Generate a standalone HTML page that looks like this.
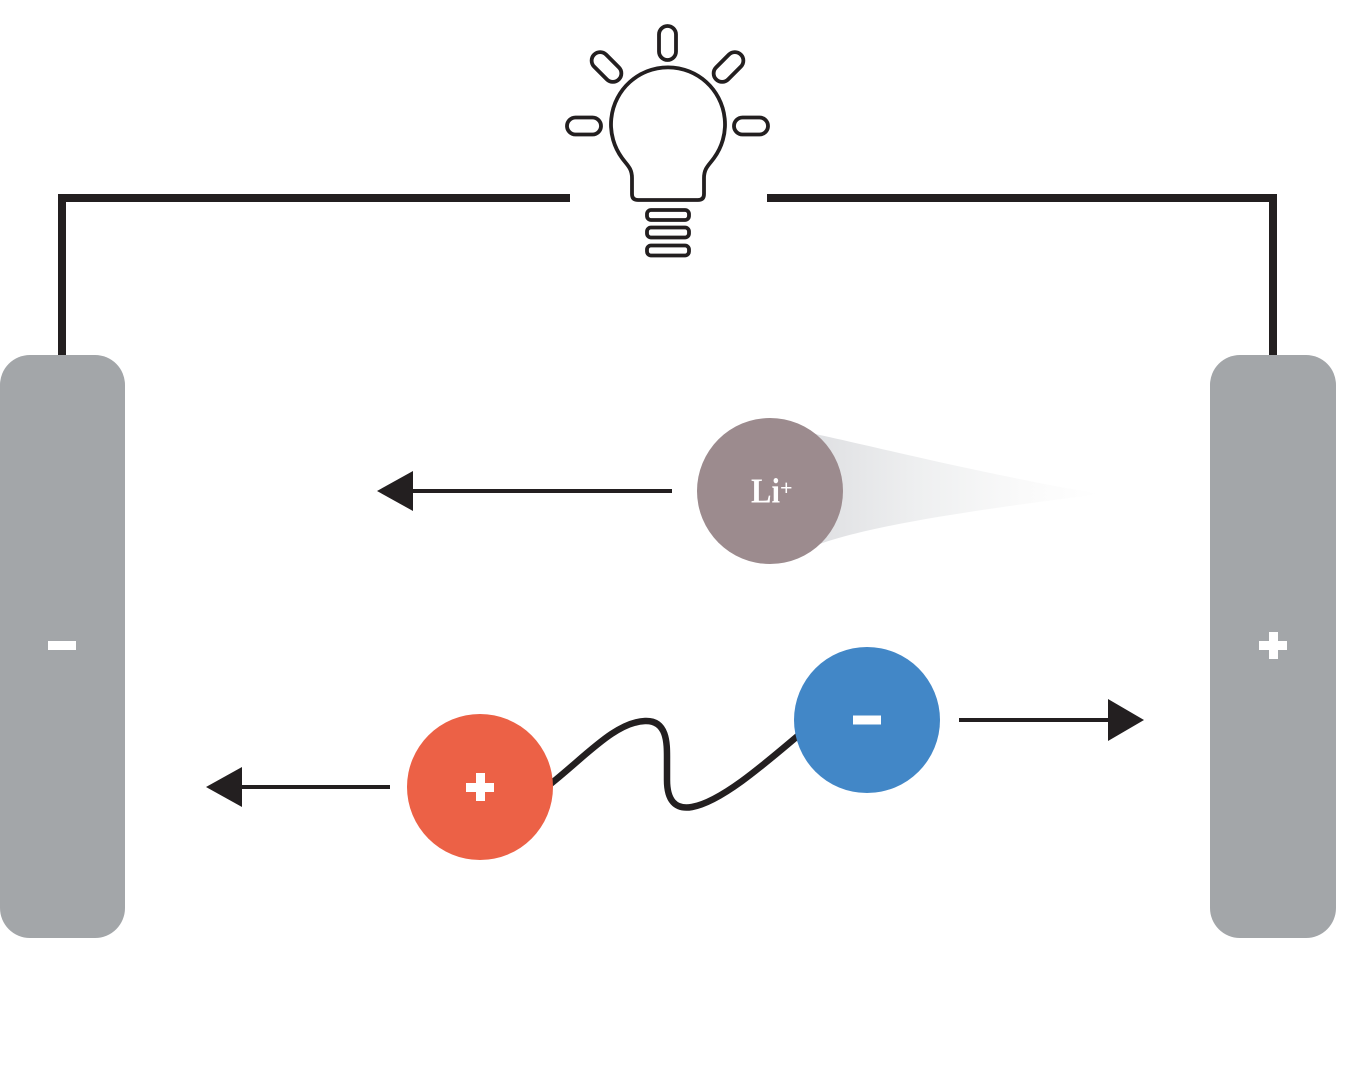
<!DOCTYPE html>
<html>
<head>
<meta charset="utf-8">
<style>
  html, body { margin: 0; padding: 0; background: #ffffff; }
  body { width: 1363px; height: 1068px; overflow: hidden; }
  svg { display: block; }
</style>
</head>
<body>
<svg width="1363" height="1068" viewBox="0 0 1363 1068" xmlns="http://www.w3.org/2000/svg">
  <defs>
    <linearGradient id="tail" x1="0" y1="0" x2="1" y2="0">
      <stop offset="0" stop-color="#dcdde0"/>
      <stop offset="0.4" stop-color="#eeeff0"/>
      <stop offset="0.75" stop-color="#fafafa"/>
      <stop offset="1" stop-color="#ffffff"/>
    </linearGradient>
  </defs>

  <!-- wires -->
  <polyline points="62,360 62,198 570,198" fill="none" stroke="#231f20" stroke-width="8" stroke-linejoin="miter"/>
  <polyline points="767,198 1273,198 1273,360" fill="none" stroke="#231f20" stroke-width="8" stroke-linejoin="miter"/>

  <!-- electrodes -->
  <rect x="0" y="355" width="125" height="583" rx="30" ry="30" fill="#a3a6a9"/>
  <rect x="1210" y="355" width="126" height="583" rx="30" ry="30" fill="#a3a6a9"/>
  <rect x="48" y="641" width="28" height="9" fill="#ffffff"/>
  <rect x="1259" y="641" width="28" height="9" fill="#ffffff"/>
  <rect x="1269" y="632" width="9" height="27" fill="#ffffff"/>

  <!-- light bulb -->
  <g fill="none" stroke="#231f20" stroke-width="3.8">
    <rect x="659" y="26" width="17" height="34" rx="8.5" ry="8.5"/>
    <rect x="567" y="117.5" width="34" height="17" rx="8.5" ry="8.5"/>
    <rect x="734" y="117.5" width="34" height="17" rx="8.5" ry="8.5"/>
    <rect x="589" y="58.5" width="35" height="17" rx="8.5" ry="8.5" transform="rotate(45 606.5 67)"/>
    <rect x="711" y="58.5" width="35" height="17" rx="8.5" ry="8.5" transform="rotate(-45 728.5 67)"/>
    <path d="M622,158 A57,57 0 1 1 714,158 C709,165 704,168 704,178 L704,194 Q704,200 698,200 L638,200 Q632,200 632,194 L632,178 C632,168 627,165 622,158 Z"/>
    <rect x="647" y="210" width="42" height="10" rx="4" ry="4"/>
    <rect x="647" y="227.5" width="42" height="10" rx="4" ry="4"/>
    <rect x="647" y="245.5" width="42" height="10" rx="4" ry="4"/>
  </g>

  <!-- Li+ ion with tail -->
  <path d="M795,430 C850,440 960,470 1100,494 C960,512 850,528 800,552 Z" fill="url(#tail)"/>
  <circle cx="770" cy="491" r="73" fill="#9c8b8e"/>
  <text x="751" y="502.5" font-family="'Liberation Serif', serif" font-weight="bold" font-size="35" fill="#ffffff" textLength="29" lengthAdjust="spacingAndGlyphs">Li</text>
  <text x="780" y="495" font-family="'Liberation Serif', serif" font-weight="bold" font-size="22" fill="#ffffff">+</text>

  <!-- Li arrow -->
  <line x1="410" y1="491" x2="672" y2="491" stroke="#231f20" stroke-width="4"/>
  <polygon points="377,491 413,471 413,511" fill="#231f20"/>

  <!-- wavy bond -->
  <path d="M548,786 C585,757 615,722 645,721 C668,720 667,745 667,760 L667,780 C667,800 675,810 692,807 C720,802 760,768 800,734" fill="none" stroke="#231f20" stroke-width="6.5" stroke-linecap="butt"/>

  <!-- red + circle -->
  <circle cx="480" cy="787" r="73" fill="#ec6146"/>
  <rect x="466" y="783" width="28" height="9" fill="#ffffff"/>
  <rect x="476" y="773" width="9" height="28" fill="#ffffff"/>

  <!-- blue - circle -->
  <circle cx="867" cy="720" r="73" fill="#4287c7"/>
  <rect x="853" y="715.5" width="28" height="9" fill="#ffffff"/>

  <!-- bottom left arrow -->
  <line x1="238" y1="787" x2="390" y2="787" stroke="#231f20" stroke-width="4"/>
  <polygon points="206,787 242,767 242,807" fill="#231f20"/>

  <!-- right arrow -->
  <line x1="959" y1="720" x2="1112" y2="720" stroke="#231f20" stroke-width="4"/>
  <polygon points="1144,720 1108,699 1108,741" fill="#231f20"/>
</svg>
</body>
</html>
